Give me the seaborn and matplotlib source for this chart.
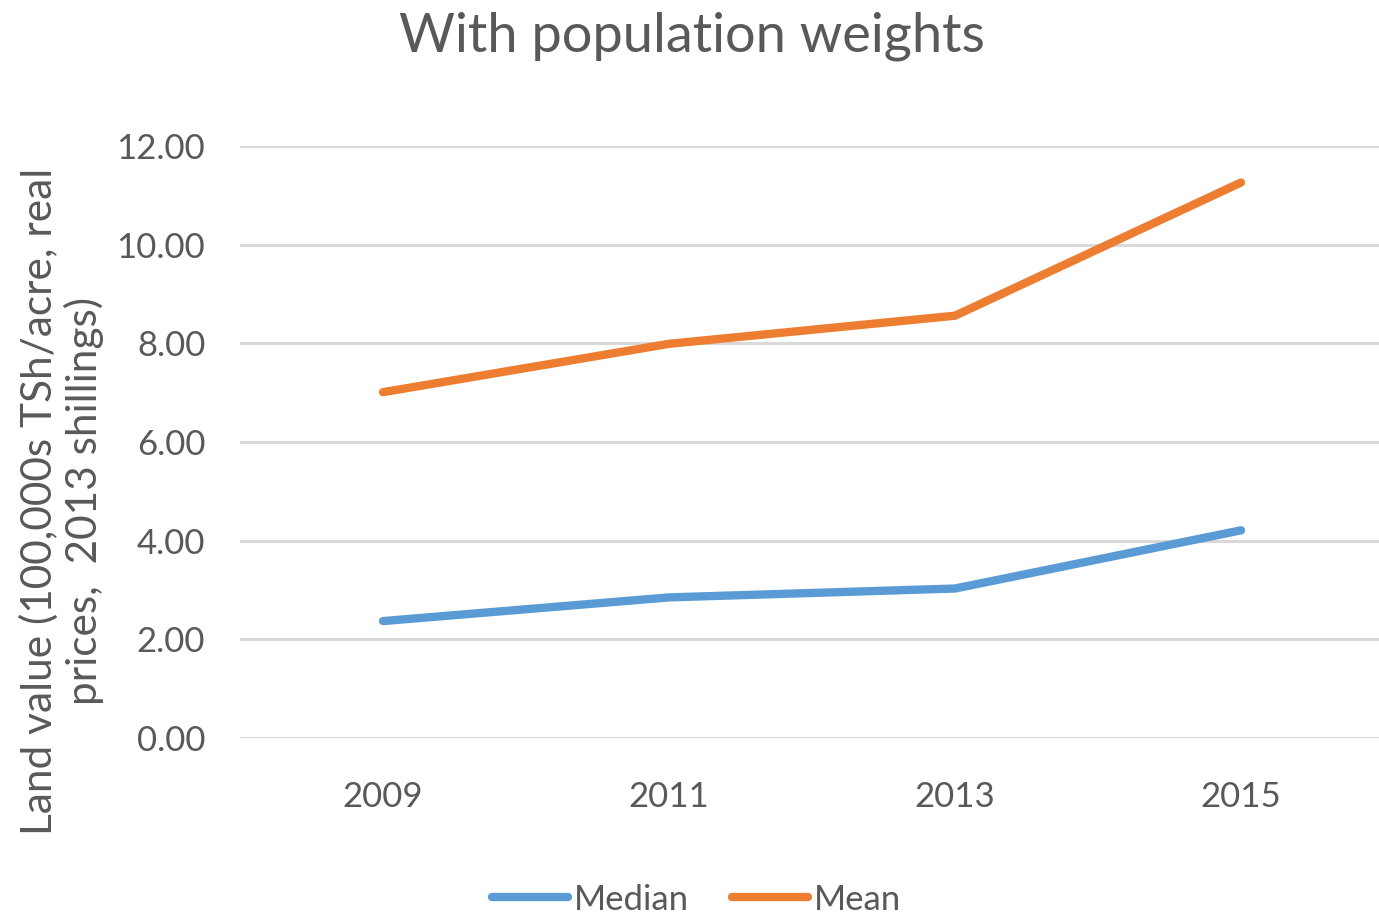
import pandas as pd
import matplotlib
matplotlib.use("Agg")
import matplotlib.pyplot as plt
import seaborn as sns

# ---------- DATA ----------
years = ["2009", "2011", "2013", "2015"]
median_vals = [2.37, 2.85, 3.03, 4.21]
mean_vals = [7.01, 7.99, 8.56, 11.26]
series_names = ["Median", "Mean"]
y_ticks = [0, 2, 4, 6, 8, 10, 12]

df = pd.DataFrame({
    "year": years * 2,
    "value": median_vals + mean_vals,
    "series": [series_names[0]] * len(years) + [series_names[1]] * len(years),
})

# ---------- STYLE ----------
sns.set_style("white")
plt.rcParams["font.family"] = ["Lato", "DejaVu Sans"]
TEXT = "#595959"
palette = {"Median": "#5B9BD5", "Mean": "#ED7D31"}

fig = plt.figure(figsize=(13.79, 9.17), dpi=100)
ax = fig.add_axes([240 / 1379, 1 - 738 / 917, 1144 / 1379, 592 / 917])

sns.lineplot(data=df, x="year", y="value", hue="series", palette=palette,
             linewidth=6, ax=ax, sort=False, solid_capstyle="round")

ax.set_xlim(-0.5, 3.5)
ax.set_ylim(0, 12)
ax.set_yticks(y_ticks)
ax.set_yticklabels([f"{v:.2f}" for v in y_ticks])
ax.yaxis.grid(True, color="#D9D9D9", linewidth=2.2)
ax.set_axisbelow(True)
for s in ax.spines.values():
    s.set_visible(False)
ax.tick_params(axis="both", length=0, labelsize=25, colors=TEXT)
ax.tick_params(axis="y", pad=25)
ax.tick_params(axis="x", pad=31)
for lbl in ax.get_yticklabels() + ax.get_xticklabels():
    lbl.set_color(TEXT)

ax.set_xlabel("")
ax.set_ylabel("Land value (100,000s TSh/acre, real\nprices,  2013 shillings)",
              fontsize=30.5, color=TEXT, linespacing=1.15)
ax.yaxis.set_label_coords(-0.119, 0.40)

fig.text(0.502, 0.960, "With population weights", ha="center", va="center",
         fontsize=39, color=TEXT)

ax.get_legend().remove()
handles, labels = ax.get_legend_handles_labels()
fig.legend(handles, labels, loc="center", bbox_to_anchor=(0.505, 0.019), ncol=2,
           frameon=False, fontsize=25, handlelength=2.2, handletextpad=0.15,
           columnspacing=1.25, labelcolor=TEXT)

fig.savefig("out.png", dpi=100)
